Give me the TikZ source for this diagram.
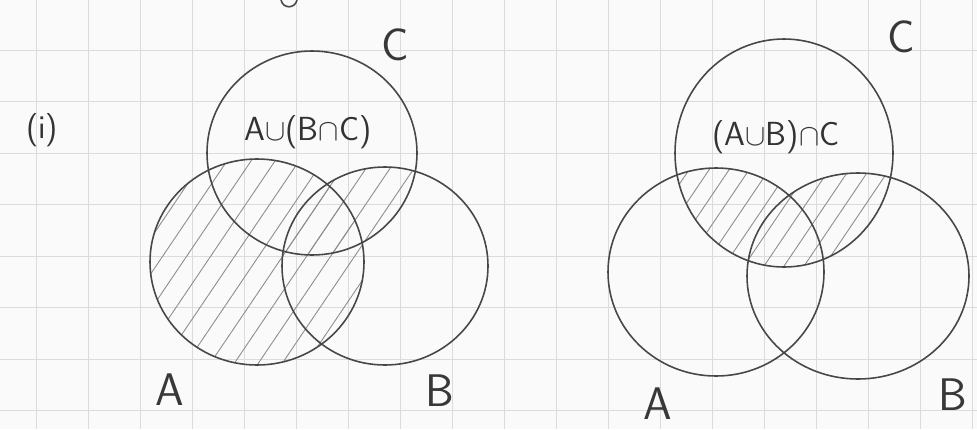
\documentclass[tikz,border=0pt]{standalone}
\usepackage{tikz}
\usetikzlibrary{calc}

\tikzset{
  gridline/.style={draw=black!14, line width=0.4pt},
  setline/.style={draw=black!72, line width=0.9pt},
  hatchline/.style={draw=black!45, line width=0.5pt},
  setlabel/.style={font=\sffamily\fontsize{26}{26}\selectfont, text=black!78},
  smalllabel/.style={font=\sffamily\fontsize{19}{19}\selectfont, text=black!80},
}

% the six sets, in pixel units
\def\leftA{(257,262) ellipse [x radius=107, y radius=103]}
\def\leftB{(385,266) ellipse [x radius=103, y radius=99]}
\def\leftC{(312,153) ellipse [x radius=105, y radius=102]}
\def\rightA{(716,272) ellipse [x radius=108, y radius=104]}
\def\rightB{(858,276) ellipse [x radius=111, y radius=103]}
\def\rightC{(784,153) ellipse [x radius=109, y radius=114]}

\begin{document}
\begin{tikzpicture}[x=0.2mm,y=-0.2mm]
    \useasboundingbox (0,0) rectangle (977,429);
    \fill[black!2] (0,0) rectangle (977,429);
    % squared paper
    \foreach \gx in {36,88,...,980} \draw[gridline] (\gx,0) -- (\gx,429);
    \foreach \gy in {50,101.5,...,429} \draw[gridline] (0,\gy) -- (977,\gy);
    % bit of the line above
    \draw[setline] (281,0) .. controls (283,9) and (295,9) .. (297,0);

    % (i) left: A u (B n C)
    \begin{scope}
    \clip \leftA;
    \foreach \hx in {-140,-116,...,520} \draw[hatchline] (\hx,420) -- ++(250,-370);
    \end{scope}
    \begin{scope}
    \clip \leftB;
    \clip \leftC;
    \foreach \hx in {-140,-116,...,520} \draw[hatchline] (\hx,420) -- ++(250,-370);
    \end{scope}
    \draw[setline] \leftA;
    \draw[setline] \leftB;
    \draw[setline] \leftC;

    % right: (A u B) n C
    \begin{scope}
    \clip \rightC;
    \clip \rightA \rightB;
    \foreach \hx in {400,420,...,1000} \draw[hatchline] (\hx,420) -- ++(250,-370);
    \end{scope}
    \draw[setline] \rightA;
    \draw[setline] \rightB;
    \draw[setline] \rightC;

    % labels
    \node[smalllabel] (part) at (42,130) {(i)};
    \node[smalllabel] (exprL) at (308,132) {A$\cup$(B$\cap$C)};
    \node[smalllabel] (exprR) at (776,137) {(A$\cup$B)$\cap$C};
    \node[setlabel] (labCL) at (395,45) {C};
    \node[setlabel] (labAL) at (170,390) {A};
    \node[setlabel] (labBL) at (440,391) {B};
    \node[setlabel] (labCR) at (901,37) {C};
    \node[setlabel] (labAR) at (658,404) {A};
    \node[setlabel] (labBR) at (953,395) {B};
\end{tikzpicture}
\end{document}
